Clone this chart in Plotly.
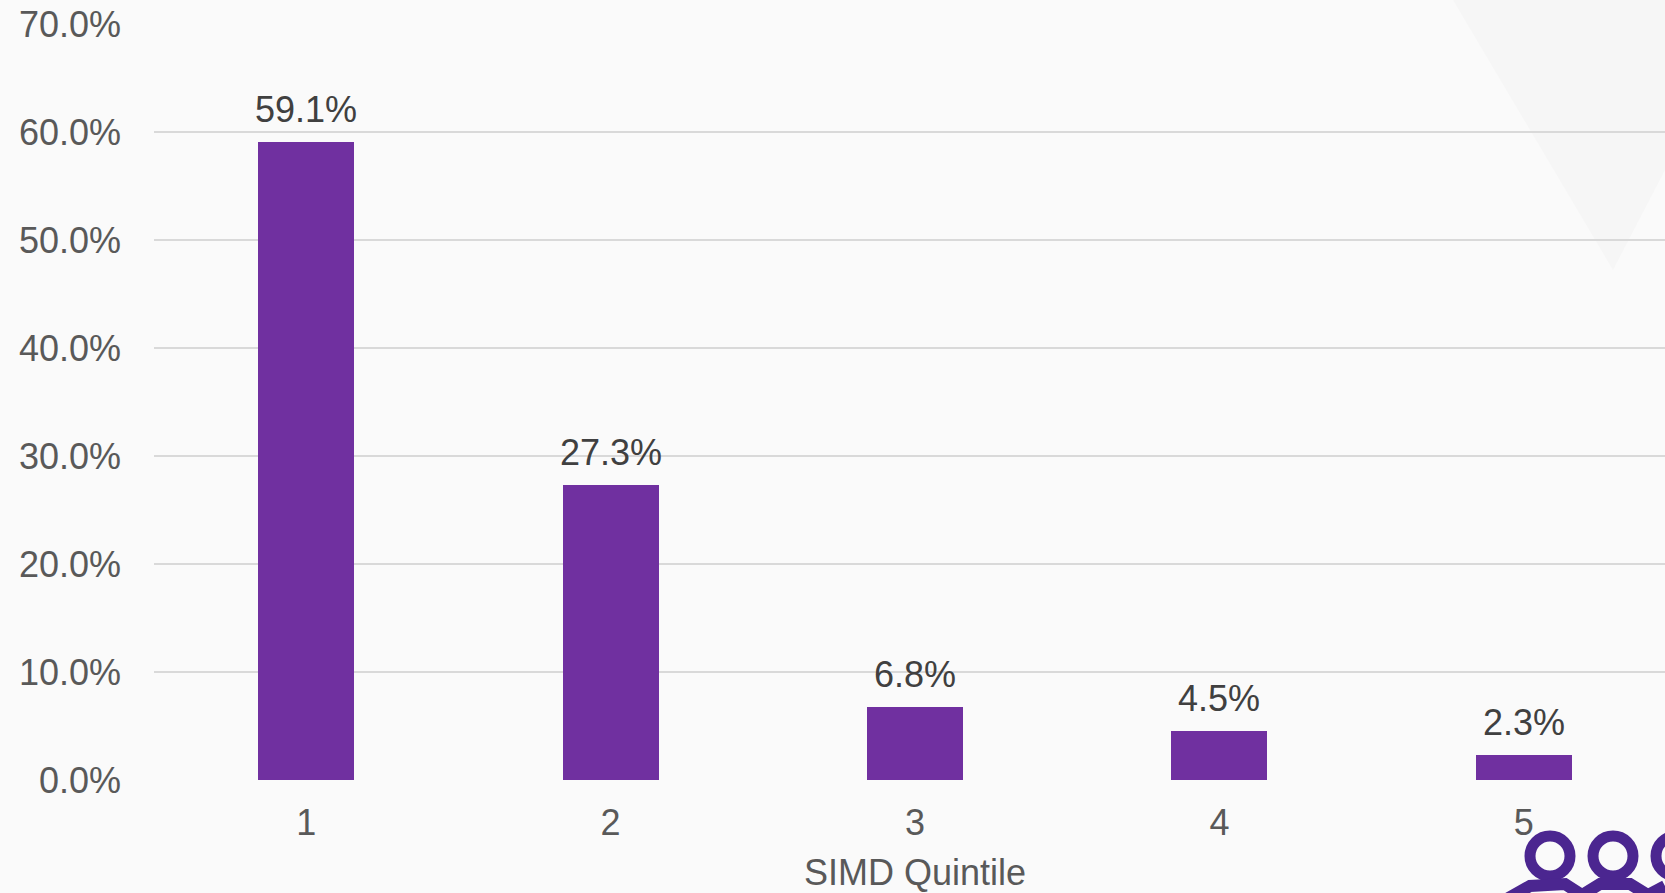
import plotly.graph_objects as go

categories = ["1", "2", "3", "4", "5"]
values = [59.1, 27.3, 6.8, 4.5, 2.3]
labels = ["59.1%", "27.3%", "6.8%", "4.5%", "2.3%"]
y_ticks = [0, 10, 20, 30, 40, 50, 60, 70]
y_tick_text = ["0.0%", "10.0%", "20.0%", "30.0%", "40.0%", "50.0%", "60.0%", "70.0%"]
x_title = "SIMD Quintile"

FONT = "Liberation Sans, Arial, sans-serif"
BAR = "#7030a0"
LOGO = "#4b2690"

W, H = 1665, 893
ML, MR, MT, MB = 154, 0, 24, 113
PW, PH = W - ML - MR, H - MT - MB


def px(xp):
    return (xp - ML) / PW


def py(yp):
    return (H - MB - yp) / PH


xpos = list(range(len(categories)))

fig = go.Figure()
fig.add_trace(go.Bar(
    x=xpos, y=values, width=0.315,
    marker=dict(color=BAR, line=dict(width=0)),
    hoverinfo="skip", showlegend=False,
))

annotations = []
for xi, v, t in zip(xpos, values, labels):
    annotations.append(dict(
        x=xi, y=v, xref="x", yref="y", text=t, showarrow=False,
        yanchor="bottom", yshift=10,
        font=dict(family=FONT, size=36, color="#404040"),
    ))
annotations.append(dict(
    x=2, y=0, xref="x", yref="paper", text=x_title, showarrow=False,
    yanchor="top", yshift=-70,
    font=dict(family=FONT, size=36, color="#595959"),
))

tri = [(1453, 0), (1613, 270), (1665, 170), (1665, 0)]
path = "M " + " L ".join(f"{px(a):.5f} {py(b):.5f}" for a, b in tri) + " Z"
shapes = [dict(type="path", xref="paper", yref="paper", layer="below",
               path=path, fillcolor="#f6f6f6", line=dict(width=0))]

# logo rings
for cx in (1550, 1613, 1676):
    r = 20
    shapes.append(dict(type="circle", xref="paper", yref="paper", layer="above",
                       x0=px(cx - r), x1=px(cx + r), y0=py(856 + r), y1=py(856 - r),
                       line=dict(color=LOGO, width=11), fillcolor="rgba(0,0,0,0)"))
# logo shoulders
for pts in ([(1505, 900), (1530, 886), (1565, 884), (1582, 895)],
            [(1582, 895), (1600, 884), (1630, 884), (1648, 895)],
            [(1648, 895), (1665, 886)]):
    shp = "M " + " L ".join(f"{px(a):.5f} {py(b):.5f}" for a, b in pts)
    shapes.append(dict(type="path", xref="paper", yref="paper", path=shp,
                       line=dict(color=LOGO, width=12)))

fig.update_layout(
    width=W, height=H,
    margin=dict(l=ML, r=MR, t=MT, b=MB, pad=0),
    paper_bgcolor="#fafafa", plot_bgcolor="rgba(0,0,0,0)",
    font=dict(family=FONT, size=36, color="#595959"),
    bargap=0, showlegend=False,
    annotations=annotations, shapes=shapes,
    xaxis=dict(
        range=[-0.5, -0.5 + PW / 304.4],
        tickmode="array", tickvals=xpos, ticktext=categories,
        showgrid=False, zeroline=False, showline=False,
        ticks="", ticklabelstandoff=18,
        tickfont=dict(family=FONT, size=36, color="#595959"),
        fixedrange=True,
    ),
    yaxis=dict(
        range=[0, 70],
        tickmode="array", tickvals=y_ticks, ticktext=y_tick_text,
        showgrid=True, gridcolor="#d9d9d9", gridwidth=2,
        zeroline=False, showline=False,
        ticks="", ticklabelstandoff=32,
        tickfont=dict(family=FONT, size=36, color="#595959"),
        fixedrange=True,
    ),
)

fig.write_html(
    "out.html",
    config={"displayModeBar": False},
    post_script="document.body.style.margin='0';document.body.style.overflow='hidden';",
)
